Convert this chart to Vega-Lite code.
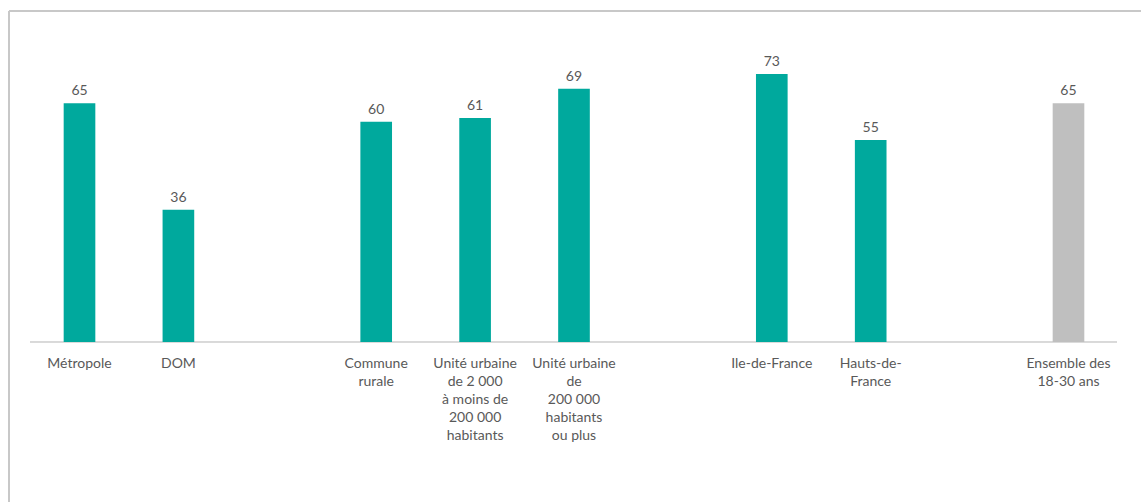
{
  "$schema": "https://vega.github.io/schema/vega-lite/v6.json",
  "autosize": "none",
  "width": 1132,
  "height": 491,
  "padding": {"left": 9, "top": 11, "right": 0, "bottom": 0},
  "background": "white",
  "config": {
    "view": {"stroke": null},
    "font": "Lato",
    "text": {"font": "Lato"}
  },
  "data": {
    "values": [
      {"cat": "Métropole", "valeur": 65, "groupe": "détail"},
      {"cat": "DOM", "valeur": 36, "groupe": "détail"},
      {"cat": "Commune\nrurale", "valeur": 60, "groupe": "détail"},
      {"cat": "Unité urbaine\nde 2 000\nà moins de\n200 000\nhabitants", "valeur": 61, "groupe": "détail"},
      {"cat": "Unité urbaine\nde\n200 000\nhabitants\nou plus", "valeur": 69, "groupe": "détail"},
      {"cat": "Ile-de-France", "valeur": 73, "groupe": "détail"},
      {"cat": "Hauts-de-\nFrance", "valeur": 55, "groupe": "détail"},
      {"cat": "Ensemble des\n18-30 ans", "valeur": 65, "groupe": "ensemble"}
    ]
  },
  "encoding": {
    "x": {
      "field": "cat",
      "type": "nominal",
      "sort": null,
      "scale": {
        "domain": [
          "Métropole",
          "DOM",
          " ",
          "Commune\nrurale",
          "Unité urbaine\nde 2 000\nà moins de\n200 000\nhabitants",
          "Unité urbaine\nde\n200 000\nhabitants\nou plus",
          "  ",
          "Ile-de-France",
          "Hauts-de-\nFrance",
          "   ",
          "Ensemble des\n18-30 ans"
        ],
        "paddingInner": 0.68,
        "paddingOuter": 0.563,
        "align": 0.491
      },
      "axis": {
        "title": null,
        "orient": "bottom",
        "offset": -160,
        "domain": false,
        "ticks": false,
        "tickSize": 0,
        "labelPadding": 14,
        "labelAngle": 0,
        "labelFont": "Lato",
        "labelFontSize": 14,
        "labelColor": "#595959",
        "labelLineHeight": 18,
        "labelOverlap": false,
        "labelFlush": false,
        "labelLimit": 0,
        "labelExpr": "split(datum.label, '\\n')"
      }
    },
    "y": {
      "field": "valeur",
      "type": "quantitative",
      "scale": {"domain": [-43.57, 90.14], "nice": false, "zero": false},
      "axis": null
    }
  },
  "layer": [
    {
      "mark": {"type": "rule", "color": "#c8c8c8", "strokeWidth": 2},
      "encoding": {"x": null, "y": {"datum": 90.14, "type": "quantitative"}}
    },
    {
      "mark": {"type": "rule", "color": "#c8c8c8", "strokeWidth": 2, "xOffset": -70.5},
      "encoding": {"x": {"datum": "Métropole"}, "y": null}
    },
    {
      "mark": {"type": "rule", "color": "#d9d9d9", "strokeWidth": 1, "xOffset": -49.5, "x2Offset": 48.5},
      "encoding": {
        "x": {"datum": "Métropole"},
        "x2": {"datum": "Ensemble des\n18-30 ans"},
        "y": {"datum": 0, "type": "quantitative"}
      }
    },
    {
      "mark": {"type": "bar"},
      "encoding": {
        "color": {
          "field": "groupe",
          "type": "nominal",
          "scale": {"domain": ["détail", "ensemble"], "range": ["#00A99D", "#BFBFBF"]},
          "legend": null
        }
      }
    },
    {
      "mark": {"type": "text", "baseline": "alphabetic", "dy": -8, "fontSize": 14, "color": "#595959", "font": "Lato"},
      "encoding": {"text": {"field": "valeur", "type": "quantitative"}}
    }
  ]
}
